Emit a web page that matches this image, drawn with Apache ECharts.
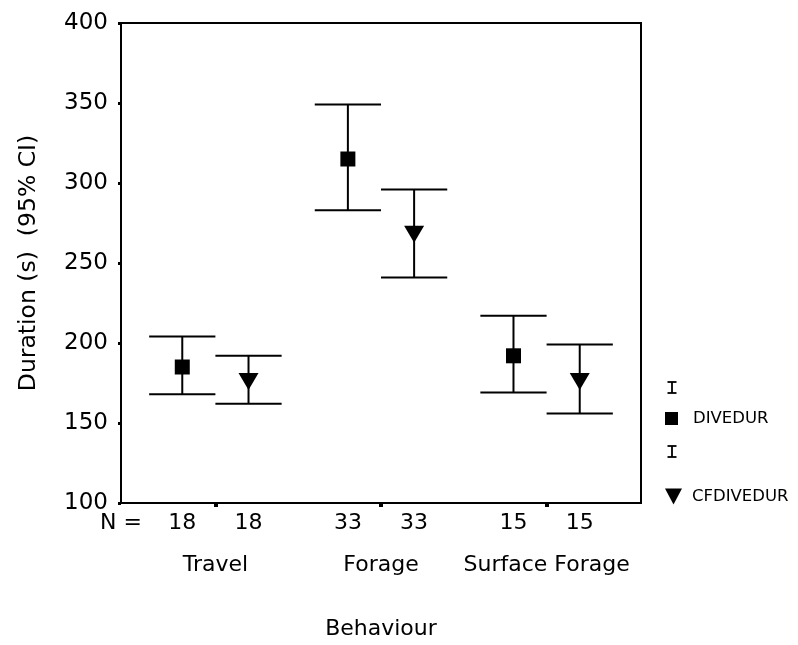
<!DOCTYPE html>
<html>
<head>
<meta charset="utf-8">
<script src="https://cdn.jsdelivr.net/npm/echarts@6/dist/echarts.min.js"></script>
<style>
html,body{margin:0;padding:0;background:#fff;}
#chart{width:798px;height:645px;}
</style>
</head>
<body>
<div id="chart"></div>
<script>
// ---- data ----
const categories = ['Travel', 'Forage', 'Surface Forage'];
const nDive = [18, 33, 15];
const nCf = [18, 33, 15];
const diveMean = [185, 315, 192];
const diveLow = [168, 283, 169];
const diveHigh = [204, 349, 217];
const cfMean = [176, 268, 176];
const cfLow = [162, 241, 156];
const cfHigh = [192, 296, 199];
const yTicks = [100, 150, 200, 250, 300, 350, 400];

// ---- layout helpers ----
const OFF = 0.2;          // offset of each series from the category centre
const XMIN = 0.43, XMAX = 3.57;
const FONT = 'DejaVu Sans';

const catPos = categories.map((c, i) => i + 1);
const divePts = catPos.map((x, i) => [x - OFF, diveMean[i], diveLow[i], diveHigh[i]]);
const cfPts = catPos.map((x, i) => [x + OFF, cfMean[i], cfLow[i], cfHigh[i]]);

const nLabelVals = [XMIN];
const nLabelText = ['N ='];
catPos.forEach((x, i) => {
  nLabelVals.push(x - OFF); nLabelText.push(String(nDive[i]));
  nLabelVals.push(x + OFF); nLabelText.push(String(nCf[i]));
});

function errRender(params, api) {
  const x = api.value(0);
  const lo = api.coord([x, api.value(2)]);
  const hi = api.coord([x, api.value(3)]);
  const hw = api.size([OFF, 0])[0];
  const st = {stroke: '#000', lineWidth: 2};
  return {
    type: 'group',
    children: [
      {type: 'line', shape: {x1: lo[0], y1: lo[1], x2: hi[0], y2: hi[1]}, style: st},
      {type: 'line', shape: {x1: lo[0] - hw, y1: lo[1], x2: lo[0] + hw, y2: lo[1]}, style: st},
      {type: 'line', shape: {x1: hi[0] - hw, y1: hi[1], x2: hi[0] + hw, y2: hi[1]}, style: st}
    ]
  };
}

const chart = echarts.init(document.getElementById('chart'), null, {renderer: 'canvas'});

function ibeam(cx, top, bottom) {
  const st = {stroke: '#000', lineWidth: 1.8};
  return {
    type: 'group',
    children: [
      {type: 'line', shape: {x1: cx, y1: top, x2: cx, y2: bottom}, style: st},
      {type: 'line', shape: {x1: cx - 4.5, y1: top, x2: cx + 4.5, y2: top}, style: st},
      {type: 'line', shape: {x1: cx - 4.5, y1: bottom, x2: cx + 4.5, y2: bottom}, style: st}
    ]
  };
}

const legendText = {fontFamily: FONT, fontSize: 16.5, color: '#000', lineHeight: 16};

chart.setOption({
  animation: false,
  backgroundColor: '#fff',
  textStyle: {fontFamily: FONT, color: '#000'},
  grid: {left: 121, right: 157, top: 23, bottom: 136, show: true, borderColor: '#000', borderWidth: 2, backgroundColor: 'transparent'},
  xAxis: [
    {
      type: 'value', min: XMIN, max: XMAX,
      name: 'Behaviour', nameLocation: 'middle', nameGap: 115,
      nameTextStyle: {fontFamily: FONT, fontSize: 22, color: '#000'},
      axisLine: {show: true, lineStyle: {color: '#000', width: 2}},
      axisTick: {show: true, customValues: catPos, length: 4, lineStyle: {color: '#000', width: 4}},
      axisLabel: {
        customValues: catPos, margin: 51, fontFamily: FONT, fontSize: 22, color: '#000',
        formatter: v => categories[Math.round(v) - 1] || ''
      },
      splitLine: {show: false}
    },
    {
      type: 'value', min: XMIN, max: XMAX, position: 'bottom', gridIndex: 0,
      axisLine: {show: false}, axisTick: {show: false}, splitLine: {show: false},
      axisLabel: {
        customValues: nLabelVals, margin: 9, fontFamily: FONT, fontSize: 22, color: '#000',
        showMinLabel: true, showMaxLabel: true,
        formatter: v => {
          let best = 0, bd = 1e9;
          nLabelVals.forEach((p, i) => { const d = Math.abs(p - v); if (d < bd) { bd = d; best = i; } });
          return nLabelText[best];
        }
      }
    }
  ],
  yAxis: {
    type: 'value', min: yTicks[0], max: yTicks[yTicks.length - 1], interval: 50,
    name: 'Duration (s)  (95% CI)', nameLocation: 'middle', nameGap: 80, nameRotate: 90,
    nameTextStyle: {fontFamily: FONT, fontSize: 23.5, color: '#000'},
    axisLine: {show: true, lineStyle: {color: '#000', width: 2}},
    axisTick: {show: true, length: 3, lineStyle: {color: '#000', width: 3}},
    axisLabel: {margin: 13, fontFamily: FONT, fontSize: 23, color: '#000'},
    splitLine: {show: false}
  },
  legend: [
    {
      orient: 'vertical', left: 665, top: 410, padding: 0, itemWidth: 13, itemHeight: 13,
      textStyle: Object.assign({}, legendText, {padding: [0, 0, 0, 10]}),
      selectedMode: false,
      data: [{name: 'DIVEDUR', icon: 'rect', itemStyle: {color: '#000'}}]
    },
    {
      orient: 'vertical', left: 665, top: 488, padding: 0, itemWidth: 17, itemHeight: 16,
      textStyle: Object.assign({}, legendText, {padding: [0, 0, 0, 5]}),
      selectedMode: false,
      data: [{name: 'CFDIVEDUR', icon: 'path://M0,0L17,0L8.5,16Z', itemStyle: {color: '#000'}}]
    }
  ],
  graphic: [ibeam(672, 382, 393), ibeam(672, 446, 457)],
  series: [
    {
      type: 'custom', name: 'DIVEDUR-CI', renderItem: errRender, data: divePts,
      encode: {x: 0, y: [2, 3]}, z: 2
    },
    {
      type: 'custom', name: 'CFDIVEDUR-CI', renderItem: errRender, data: cfPts,
      encode: {x: 0, y: [2, 3]}, z: 2
    },
    {
      type: 'scatter', name: 'DIVEDUR', data: divePts.map(p => [p[0], p[1]]),
      symbol: 'rect', symbolSize: 15, itemStyle: {color: '#000', opacity: 1}, z: 3
    },
    {
      type: 'scatter', name: 'CFDIVEDUR', data: cfPts.map(p => [p[0], p[1]]),
      symbol: 'triangle', symbolRotate: 180, symbolSize: [20, 17], itemStyle: {color: '#000', opacity: 1}, z: 3
    }
  ]
});
</script>
</body>
</html>
